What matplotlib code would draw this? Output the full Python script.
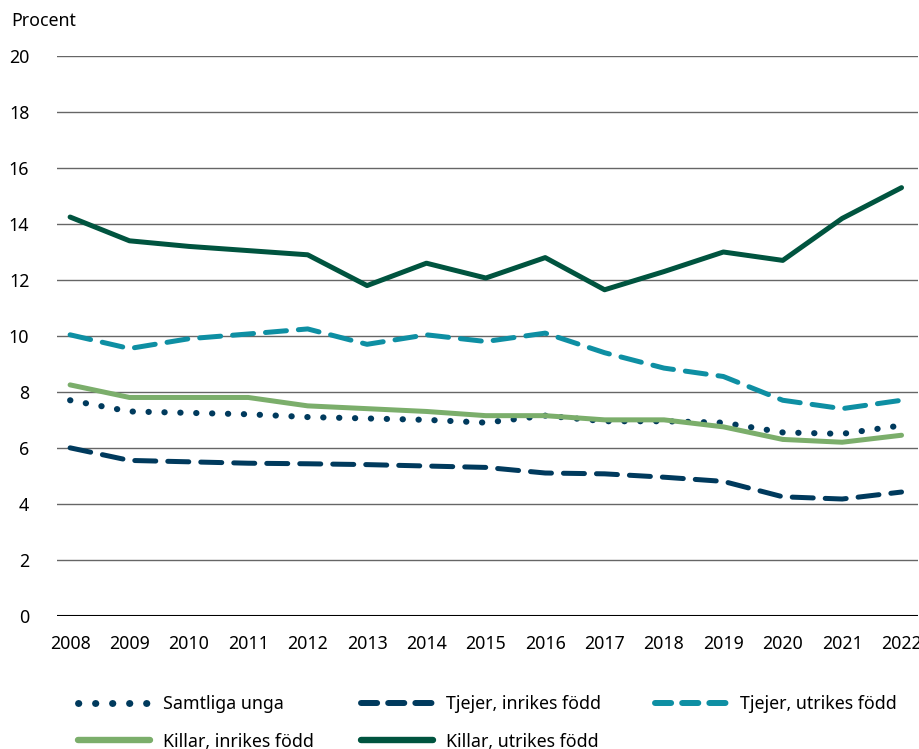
import matplotlib
matplotlib.use("Agg")
import matplotlib.pyplot as plt
from matplotlib.lines import Line2D

plt.rcParams['font.family'] = ['Noto Sans', 'DejaVu Sans']

years = list(range(2008, 2023))

samtliga = [7.7, 7.3, 7.25, 7.2, 7.1, 7.05, 7.0, 6.9, 7.15, 6.95, 6.95, 6.9, 6.55, 6.5, 6.8]
tjejer_inrikes = [6.0, 5.55, 5.5, 5.45, 5.43, 5.4, 5.35, 5.3, 5.1, 5.07, 4.95, 4.8, 4.25, 4.17, 4.42]
tjejer_utrikes = [10.04, 9.55, 9.9, 10.07, 10.25, 9.7, 10.04, 9.8, 10.1, 9.4, 8.85, 8.55, 7.7, 7.4, 7.7]
killar_inrikes = [8.25, 7.8, 7.8, 7.8, 7.5, 7.4, 7.3, 7.15, 7.15, 7.0, 7.0, 6.75, 6.3, 6.2, 6.45]
killar_utrikes = [14.25, 13.4, 13.2, 13.05, 12.9, 11.8, 12.6, 12.07, 12.8, 11.65, 12.3, 13.0, 12.7, 14.2, 15.3]

navy = '#003a5d'
teal = '#0e8fa3'
lightgreen = '#7bae6b'
darkgreen = '#00543f'
fs = 12.8

fig = plt.figure(figsize=(9.2, 7.49), dpi=100)
ax = fig.add_axes([0.062, 0.178, 0.936, 0.747])

lw = 3.6
ax.plot(years, samtliga, color=navy, lw=4.4, dashes=(0.05, 2.55),
        dash_capstyle='round')
ax.plot(years, tjejer_inrikes, color=navy, lw=lw, dashes=(4.2, 2.4),
        dash_capstyle='round')
ax.plot(years, tjejer_utrikes, color=teal, lw=lw, dashes=(4.2, 2.4),
        dash_capstyle='round')
ax.plot(years, killar_inrikes, color=lightgreen, lw=lw, solid_capstyle='round')
ax.plot(years, killar_utrikes, color=darkgreen, lw=lw, solid_capstyle='round')

ax.set_ylim(0, 20)
ax.set_yticks(range(0, 21, 2))
ax.set_xlim(2007.78, 2022.28)
ax.set_xticks(years)
ax.grid(axis='y', color='#666666', lw=1)
ax.set_axisbelow(True)
ax.axhline(0, color='black', lw=1.5)
for s in ax.spines.values():
    s.set_visible(False)
ax.tick_params(axis='both', length=0, labelsize=fs, colors='black')
ax.tick_params(axis='y', pad=20)
ax.tick_params(axis='x', pad=14)
for lab in ax.get_yticklabels():
    lab.set_horizontalalignment('right')

fig.text(0.012, 0.965, 'Procent', fontsize=fs, va='baseline')

# legend handles drawn a bit thicker, with the dash pattern of the original key
h_samt = Line2D([], [], color=navy, lw=5, dashes=(0.05, 2.4),
                dash_capstyle='round', label='Samtliga unga')
h_tin = Line2D([], [], color=navy, lw=4.3, dashes=(2.7, 1.85),
               dash_capstyle='round', label='Tjejer, inrikes född')
h_tut = Line2D([], [], color=teal, lw=4.3, dashes=(2.7, 1.85),
               dash_capstyle='round', label='Tjejer, utrikes född')
h_kin = Line2D([], [], color=lightgreen, lw=4.6, solid_capstyle='round',
               label='Killar, inrikes född')
h_kut = Line2D([], [], color=darkgreen, lw=4.6, solid_capstyle='round',
               label='Killar, utrikes född')

# three legend columns placed at their own x positions
col_x = [78, 361, 655]
cols = [[h_samt, h_kin], [h_tin, h_kut], [h_tut]]
for x, hs in zip(col_x, cols):
    fig.legend(handles=hs, loc='upper left',
               bbox_to_anchor=(x / 920, 1 - 695 / 749), frameon=False,
               fontsize=fs, handlelength=4.05, handletextpad=0.75,
               labelspacing=1.1, borderpad=0, borderaxespad=0)

fig.savefig('out.png', dpi=100)
